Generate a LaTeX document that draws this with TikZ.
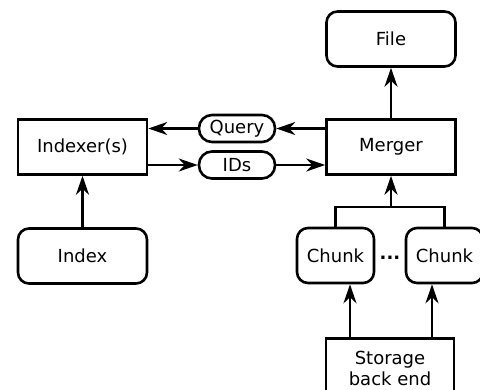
\documentclass[tikz,border=0pt]{standalone}
\usepackage{fontspec}
\setmainfont{DejaVu Sans}
\usetikzlibrary{arrows.meta}
\begin{document}
\begin{tikzpicture}[x=1pt,y=-1pt,
  every node/.style={font=\fontsize{18}{21.7}\selectfont, line width=2.6pt, draw, inner sep=0pt, align=center},
  sqbox/.style={rectangle, minimum width=129pt, minimum height=55pt},
  rbox/.style={rectangle, rounded corners=11pt, minimum width=129pt, minimum height=55pt},
  chunkbox/.style={rectangle, rounded corners=11pt, minimum width=77pt, minimum height=55pt},
  pill/.style={rectangle, rounded corners=13pt, minimum width=76pt, minimum height=27pt},
  conn/.style={line width=2.3pt, -{Stealth[length=19pt,width=13pt,inset=6pt]}},
  plain/.style={line width=2.3pt}
]
\useasboundingbox (0,0) rectangle (480,389);
\clip (0,0) rectangle (480,389);
\node[rbox] (file) at (391,39) {File};
\node[sqbox] (merger) at (391,147) {Merger};
\node[sqbox] (indexer) at (82.5,147) {Indexer(s)};
\node[rbox] (index) at (82.5,256) {Index};
\node[pill] (query) at (237,128.5) {Query};
\node[pill] (ids) at (237,165) {IDs};
\node[chunkbox] (c1) at (335.5,255.5) {Chunk};
\node[chunkbox] (c2) at (444.5,255.5) {Chunk};
\node[draw=none] (dots) at (390,258) {\textbf{...}};
\node[sqbox, minimum width=128pt, minimum height=60pt, anchor=north] (store) at (390,337) {Storage\\back end};
\coordinate (bl) at (335.5,207);
\coordinate (br) at (444.5,207);
\coordinate (bm) at (391,207);
% connectors
\draw[conn] (merger.north) -- (file.south);
\draw[conn] (merger.west |- query.east) -- (query.east);
\draw[conn] (query.west) -- (indexer.east |- query.west);
\draw[conn] (indexer.east |- ids.west) -- (ids.west);
\draw[conn] (ids.east) -- (merger.west |- ids.east);
\draw[conn] (index.north) -- (indexer.south);
\draw[plain] (c1.north) -- (bl) -- (br) -- (c2.north);
\draw[conn] (bm) -- (merger.south);
\draw[conn] (store.north -| 350,0) -- (c1.south -| 350,0);
\draw[conn] (store.north -| 432,0) -- (c2.south -| 432,0);
\end{tikzpicture}
\end{document}
